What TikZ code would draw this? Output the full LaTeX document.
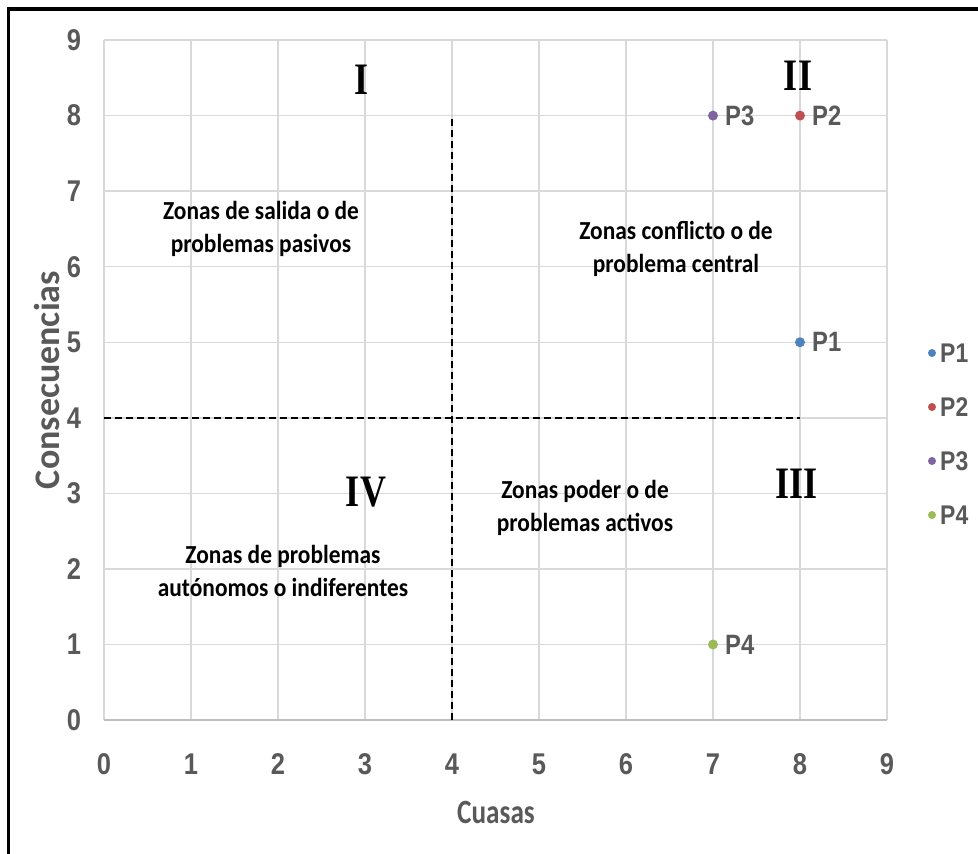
\documentclass[tikz,border=0pt]{standalone}
\usepackage{fontspec}
\setmainfont{Carlito}
\newfontfamily\tickfont{Liberation Sans}[FakeStretch=0.85]
\newfontfamily\zonefont{Carlito}[FakeStretch=0.9]
\newfontfamily\titlefont{Carlito}[FakeStretch=0.8]
\newfontfamily\romfont{Liberation Serif}[FakeStretch=0.8]
\definecolor{tickgray}{HTML}{595959}
\definecolor{gridgray}{HTML}{D9D9D9}
\definecolor{axisgray}{HTML}{BFBFBF}
\definecolor{pone}{HTML}{4F81BD}
\definecolor{ptwo}{HTML}{C0504D}
\definecolor{pthree}{HTML}{8064A2}
\definecolor{pfour}{HTML}{9BBB59}
\begin{document}
\begin{tikzpicture}[x=1pt,y=-1pt,
 gridline/.style={draw=gridgray, line width=1.5pt},
 axisline/.style={draw=axisgray, line width=2pt},
 quadline/.style={draw=black, line width=2.4pt, dash pattern=on 7pt off 4pt},
 ticklabel/.style={font=\tickfont\bfseries\fontsize{30}{30}\selectfont, text=tickgray, inner sep=0pt},
 zonetext/.style={font=\zonefont\bfseries\fontsize{26}{33}\selectfont, align=center, inner sep=0pt},
 romnum/.style={font=\romfont\bfseries\fontsize{45}{45}\selectfont, inner sep=0pt},
 xtitle/.style={font=\titlefont\bfseries\fontsize{34}{34}\selectfont, text=tickgray, inner sep=0pt},
 ytitle/.style={font=\bfseries\fontsize{36}{36}\selectfont, text=tickgray, inner sep=0pt, rotate=90},
 datadot/.style={circle, inner sep=0pt, minimum size=10pt},
 legdot/.style={circle, inner sep=0pt, minimum size=8pt},
 plabel/.style={font=\tickfont\bfseries\fontsize{28}{28}\selectfont, text=tickgray, anchor=west, inner sep=0pt},
 leglabel/.style={font=\tickfont\bfseries\fontsize{27}{27}\selectfont, text=tickgray, anchor=west, inner sep=0pt},
]
\useasboundingbox (0,0) rectangle (978,854);
\fill[white] (0,0) rectangle (978,854);
% outer frame
\draw[line width=3.5pt] (8.5,854) -- (8.5,9) -- (978,9);

\begin{scope}[shift={(104,720)}, x=87pt, y=75.55pt]
  \foreach \i in {0,...,9} \draw[gridline] (\i,0) -- (\i,9);
  \foreach \j in {1,...,9} \draw[gridline] (0,\j) -- (9,\j);
  \draw[axisline] (0,0) -- (9,0);
  \foreach \i in {0,...,9} \node[ticklabel] (xt\i) at (\i,-0.58) {\i};
  \foreach \j in {0,...,9} \node[ticklabel] (yt\j) at (-0.345,\j) {\j};
  % quadrant dividers
  \coordinate (vtop) at (4,8);
  \coordinate (vbot) at (4,0);
  \coordinate (hleft) at (0,4);
  \coordinate (hright) at (8,4);
  \draw[quadline] (vbot) -- (vtop);
  \draw[quadline] (hleft) -- (hright);
  % data points
  \node[datadot, fill=pone] (p1) at (8,5) {};
  \node[datadot, fill=ptwo] (p2) at (8,8) {};
  \node[datadot, fill=pthree] (p3) at (7,8) {};
  \node[datadot, fill=pfour] (p4) at (7,1) {};
  \node[plabel] (l1) at ([xshift=12pt]p1.center) {P1};
  \node[plabel] (l2) at ([xshift=12pt]p2.center) {P2};
  \node[plabel] (l3) at ([xshift=12pt]p3.center) {P3};
  \node[plabel] (l4) at ([xshift=12pt]p4.center) {P4};
\end{scope}

% axis titles
\node[xtitle] (xtitle) at (496,812) {Cuasas};
\node[ytitle] (ytitle) at (47,380) {Consecuencias};

% roman numerals
\node[romnum] (q1) at (362,80) {I};
\node[romnum] (q2) at (798,76) {II};
\node[romnum] (q3) at (797,484) {III};
\node[romnum] (q4) at (366,492) {IV};

% zone texts
\node[zonetext] (z1) at (261,229) {Zonas de salida o de\\problemas pasivos};
\node[zonetext] (z2) at (676,249) {Zonas conflicto o de\\problema central};
\node[zonetext] (z3) at (585,508) {Zonas poder o de\\problemas activos};
\node[zonetext] (z4) at (283,571) {Zonas de problemas\\autónomos o indiferentes};

% legend
\node[legdot, fill=pone] (g1) at (932,353) {};
\node[legdot, fill=ptwo] (g2) at (932,407) {};
\node[legdot, fill=pthree] (g3) at (932,461) {};
\node[legdot, fill=pfour] (g4) at (932,515) {};
\node[leglabel] (gl1) at (940,353) {P1};
\node[leglabel] (gl2) at (940,407) {P2};
\node[leglabel] (gl3) at (940,461) {P3};
\node[leglabel] (gl4) at (940,515) {P4};
\end{tikzpicture}
\end{document}
